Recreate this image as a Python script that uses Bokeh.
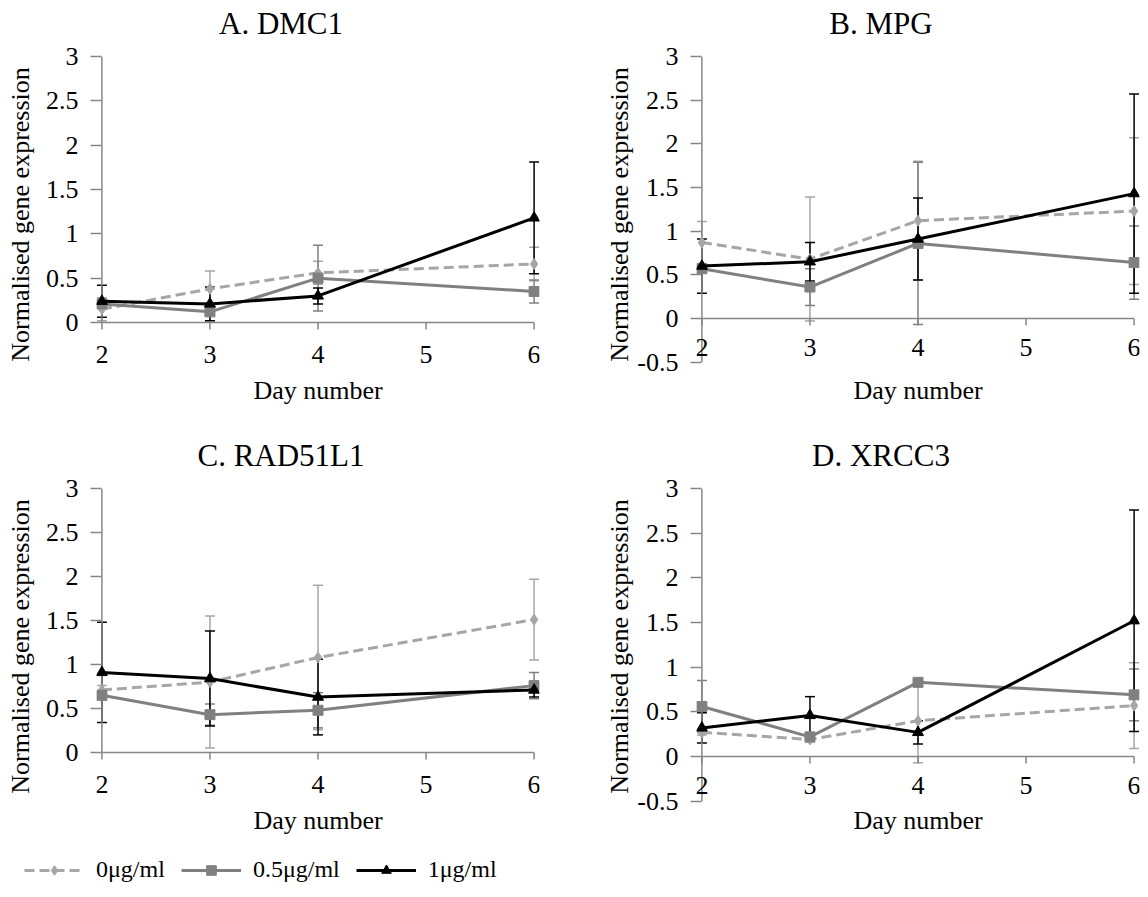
from bokeh.plotting import figure
from bokeh.models import (Range1d, FixedTicker, NumeralTickFormatter, ColumnDataSource,
                          Whisker, TeeHead, Legend, LegendItem)
from bokeh.core.properties import value
from bokeh.layouts import column, row
from bokeh.embed import file_html
from bokeh.resources import INLINE

# ---------------- data ----------------
days = [2, 3, 4, 6]
x_ticks = [2, 3, 4, 5, 6]
series_labels = ["0μg/ml", "0.5μg/ml", "1μg/ml"]

panel_titles = ["A. DMC1", "B. MPG", "C. RAD51L1", "D. XRCC3"]

dmc1_0 = [0.15, 0.38, 0.56, 0.66]
dmc1_0_err = [0.13, 0.20, 0.13, 0.19]
dmc1_05 = [0.21, 0.12, 0.50, 0.35]
dmc1_05_err = [0.05, 0.10, 0.37, 0.13]
dmc1_1 = [0.24, 0.21, 0.30, 1.18]
dmc1_1_err = [0.18, 0.19, 0.09, 0.63]

mpg_0 = [0.87, 0.68, 1.12, 1.23]
mpg_0_err = [0.24, 0.71, 0.68, 0.84]
mpg_05 = [0.57, 0.36, 0.86, 0.64]
mpg_05_err = [0.05, 0.21, 0.93, 0.42]
mpg_1 = [0.60, 0.65, 0.91, 1.43]
mpg_1_err = [0.31, 0.22, 0.47, 1.14]

rad51l1_0 = [0.71, 0.80, 1.08, 1.51]
rad51l1_0_err = [0.05, 0.75, 0.82, 0.46]
rad51l1_05 = [0.65, 0.43, 0.48, 0.76]
rad51l1_05_err = [0.05, 0.12, 0.20, 0.15]
rad51l1_1 = [0.91, 0.84, 0.63, 0.71]
rad51l1_1_err = [0.57, 0.54, 0.43, 0.08]

xrcc3_0 = [0.27, 0.19, 0.40, 0.57]
xrcc3_0_err = [0.03, 0.03, 0.47, 0.48]
xrcc3_05 = [0.56, 0.22, 0.83, 0.69]
xrcc3_05_err = [0.29, 0.04, 0.04, 0.29]
xrcc3_1 = [0.32, 0.46, 0.27, 1.52]
xrcc3_1_err = [0.17, 0.21, 0.13, 1.24]

y_ticks_pos = [0, 0.5, 1, 1.5, 2, 2.5, 3]
y_ticks_neg = [-0.5, 0, 0.5, 1, 1.5, 2, 2.5, 3]

# ---------------- style ----------------
FONT = "Liberation Serif"
AXIS_GREY = "#868686"
colors = ["#A6A6A6", "#808080", "#000000"]
dashes = ["10 5", "solid", "solid"]
markers = ["diamond", "square", "triangle"]
msizes = [11, 10, 11]
TITLE_H = 40


def style_text_axis(ax):
    ax.major_label_text_font = FONT
    ax.major_label_text_font_size = "26px"
    ax.major_label_text_color = "black"
    ax.axis_label_text_font = FONT
    ax.axis_label_text_font_size = "26px"
    ax.axis_label_text_font_style = "normal"
    ax.axis_label_text_color = "black"
    ax.minor_tick_line_color = None


def make_title(title, x_range, left, right):
    t = figure(width=574, height=TITLE_H, x_range=x_range,
               y_range=Range1d(0, TITLE_H), output_backend="svg",
               toolbar_location=None, min_border_left=left,
               min_border_right=right, min_border_top=0, min_border_bottom=0,
               x_axis_location=None, y_axis_location=None)
    t.outline_line_color = None
    t.grid.visible = False
    t.text(x=[4], y=[TITLE_H - 23], text=[title], x_offset=-37,
           text_font=value(FONT), text_font_size="31px", text_color="black",
           text_align="center", text_baseline="middle")
    return t


def make_panel(vals, errs, yticks, height, frame_px, zero_px,
               left, right, ylab_standoff, xlab_standoff, xlabel_gap):
    # frame_px: (top, bottom) pixel rows of the frame inside the figure
    # zero_px : pixel row of y = 0; y = 3 sits on the frame top
    top, bot = frame_px
    scale = (zero_px - top) / 3.0
    ymin = -(bot - zero_px) / scale
    p = figure(width=574, height=height, x_range=Range1d(1.95, 6.05),
               y_range=Range1d(ymin, 3), output_backend="svg",
               toolbar_location=None, min_border_left=left,
               min_border_right=right, min_border_top=top,
               min_border_bottom=height - bot)
    p.outline_line_color = None
    p.grid.visible = False

    # y axis: labels/ticks from the axis, axis line drawn at x = 2
    ya = p.yaxis[0]
    style_text_axis(ya)
    ya.ticker = FixedTicker(ticks=yticks)
    ya.formatter = NumeralTickFormatter(format="0.[0]")
    ya.axis_line_color = None
    ya.major_tick_line_color = AXIS_GREY
    ya.major_tick_line_width = 1.5
    ya.major_tick_in = 5
    ya.major_tick_out = 6
    ya.major_label_standoff = 12
    ya.axis_label = "Normalised gene expression"
    ya.axis_label_standoff = ylab_standoff
    p.segment(x0=[x_ticks[0]], y0=[yticks[0]], x1=[x_ticks[0]], y1=[yticks[-1]],
              line_color=AXIS_GREY, line_width=1.5)

    # x axis crosses at y = 0
    xa = p.xaxis[0]
    style_text_axis(xa)
    xa.axis_label = "Day number"
    xa.ticker = FixedTicker(ticks=[])
    xa.axis_line_color = None
    xa.major_tick_line_color = None
    xa.major_tick_out = 0
    xa.major_label_standoff = 0
    xa.axis_label_standoff = xlab_standoff
    p.segment(x0=[x_ticks[0]], y0=[0], x1=[x_ticks[-1]], y1=[0],
              line_color=AXIS_GREY, line_width=1.5)
    p.segment(x0=x_ticks, y0=[0] * len(x_ticks), x1=x_ticks,
              y1=[-7 / scale] * len(x_ticks), line_color=AXIS_GREY,
              line_width=1.5)
    # tick labels: place the label row a fixed pixel gap below y = 0
    label_y = -xlabel_gap / scale
    p.text(x=x_ticks, y=[label_y] * len(x_ticks), text=[str(t) for t in x_ticks],
           text_font=value(FONT), text_font_size="26px", text_color="black",
           text_align="center", text_baseline="middle")

    for i in range(3):
        v = vals[i]
        e = errs[i]
        src = ColumnDataSource(dict(
            x=days, y=v,
            upper=[a + b for a, b in zip(v, e)],
            lower=[a - b for a, b in zip(v, e)],
        ))
        c = colors[i]
        w = Whisker(source=src, base="x", upper="upper", lower="lower",
                    dimension="height", line_color=c, line_width=1.5,
                    upper_head=TeeHead(size=10, line_color=c, line_width=1.5),
                    lower_head=TeeHead(size=10, line_color=c, line_width=1.5))
        p.add_layout(w)
        p.line("x", "y", source=src, line_color=c, line_width=3,
               line_dash=dashes[i])
        p.scatter("x", "y", source=src, marker=markers[i], size=msizes[i],
                  fill_color=c, line_color=c)
    return p


# panel figures sit below a 40 px title strip; frame rows are inside each panel
pA = make_panel([dmc1_0, dmc1_05, dmc1_1], [dmc1_0_err, dmc1_05_err, dmc1_1_err],
                y_ticks_pos, 432 - TITLE_H, (16, 332), 282, 96, 35, 8, 3, 32)
pB = make_panel([mpg_0, mpg_05, mpg_1], [mpg_0_err, mpg_05_err, mpg_1_err],
                y_ticks_neg, 432 - TITLE_H, (16, 332), 278, 122, 9, 0, 3, 29)
pC = make_panel([rad51l1_0, rad51l1_05, rad51l1_1],
                [rad51l1_0_err, rad51l1_05_err, rad51l1_1_err],
                y_ticks_pos, 420 - TITLE_H, (16, 332), 280, 96, 35, 8, 1, 32)
pD = make_panel([xrcc3_0, xrcc3_05, xrcc3_1], [xrcc3_0_err, xrcc3_05_err, xrcc3_1_err],
                y_ticks_neg, 420 - TITLE_H, (16, 332), 284, 122, 9, 0, 1, 29)

tA = make_title(panel_titles[0], pA.x_range, 96, 35)
tB = make_title(panel_titles[1], pB.x_range, 122, 9)
tC = make_title(panel_titles[2], pC.x_range, 96, 35)
tD = make_title(panel_titles[3], pD.x_range, 122, 9)

# ---------------- legend ----------------
pL = figure(width=574, height=45, x_range=Range1d(0, 1), y_range=Range1d(0, 1),
            output_backend="svg", toolbar_location=None, min_border=0,
            x_axis_location=None, y_axis_location=None)
pL.outline_line_color = None
pL.grid.visible = False
items = []
for i in range(3):
    c = colors[i]
    # single off-canvas point so the legend has visuals to draw with
    lsrc = ColumnDataSource(dict(x=[0.5], y=[-5]))
    lr = pL.line("x", "y", source=lsrc, line_color=c, line_width=3,
                 line_dash=dashes[i])
    sr = pL.scatter("x", "y", source=lsrc, marker=markers[i],
                    size=msizes[i] - 2, fill_color=c, line_color=c)
    items.append(LegendItem(label=series_labels[i], renderers=[lr, sr]))
leg = Legend(items=items, orientation="horizontal", location=(24, 14),
             border_line_color=None, background_fill_alpha=0, padding=0,
             margin=0, spacing=16, glyph_width=60, glyph_height=24,
             label_height=24, label_standoff=12, label_text_font=FONT,
             label_text_font_size="24px", label_text_color="black")
pL.add_layout(leg, "center")

layout = column(row(tA, tB), row(pA, pB), row(tC, tD), row(pC, pD), pL)

open("out.html", "w").write(file_html(layout, INLINE))
